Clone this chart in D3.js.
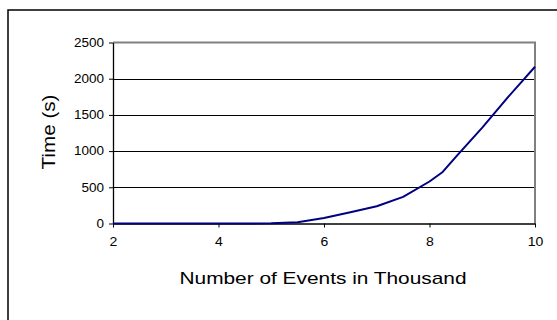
<!DOCTYPE html>
<html><head><meta charset="utf-8">
<script src="https://cdn.jsdelivr.net/npm/d3@7"></script>
<style>body{margin:0;background:#fff}svg{display:block}</style>
</head><body>
<script>
const events = [2, 3, 4, 5, 5.5, 6, 6.5, 7, 7.5, 8, 8.25, 8.5, 9, 9.5, 10];
const times  = [0, 0, 0, 2, 18, 75, 155, 238, 368, 580, 712, 920, 1325, 1755, 2165];
const xTicks = [2, 4, 6, 8, 10];
const yTicks = [0, 500, 1000, 1500, 2000, 2500];
const xTitle = "Number of Events in Thousand";
const yTitle = "Time (s)";

const W = 557, H = 320;
const svg = d3.select("body").append("svg").attr("width", W).attr("height", H);
const font = "'Liberation Sans', Arial, sans-serif";

// outer frame (cropped on right/bottom)
svg.append("rect").attr("x", 8).attr("y", 10).attr("width", 600).attr("height", 400)
  .attr("fill", "none").attr("stroke", "#000").attr("stroke-width", 1.5);

const L = 113, R = 535, T = 42.5, B = 223.5;
const x = d3.scaleLinear().domain([2, 10]).range([L, R]);
const y = d3.scaleLinear().domain([0, 2500]).range([B, T]);

// gridlines
svg.append("g").selectAll("line").data(yTicks.filter(v => v > 0 && v < 2500)).join("line")
  .attr("x1", L).attr("x2", R).attr("y1", d => Math.round(y(d)) + 0.5).attr("y2", d => Math.round(y(d)) + 0.5)
  .attr("stroke", "#000").attr("stroke-width", 1);

// plot border top/right gray
svg.append("path").attr("d", `M${L},${T}H${R}V${B}`).attr("fill", "none")
  .attr("stroke", "#808080").attr("stroke-width", 2);

// axes
const yAxis = svg.append("g").attr("transform", `translate(${L},0)`)
  .call(d3.axisLeft(y).tickValues(yTicks).tickSize(4).tickSizeOuter(0).tickPadding(5).tickFormat(d3.format("d")));
const xAxis = svg.append("g").attr("transform", `translate(0,${B})`)
  .call(d3.axisBottom(x).tickValues(xTicks).tickSize(4).tickSizeOuter(0).tickPadding(10).tickFormat(d3.format("d")));
[yAxis, xAxis].forEach(g => {
  g.select(".domain").attr("stroke", "#000").attr("stroke-width", 1.3);
  g.selectAll(".tick line").attr("stroke", "#000");
  g.selectAll("text").attr("font-family", font).attr("font-size", 12).attr("fill", "#000");
});
xAxis.selectAll("text").each(function(){
  const t = d3.select(this); const s = t.text();
  t.attr("textLength", s.length * 7.8).attr("lengthAdjust", "spacingAndGlyphs");
});
yAxis.selectAll("text").each(function(){
  const t = d3.select(this); const s = t.text();
  t.attr("textLength", s.length * 7.5).attr("lengthAdjust", "spacingAndGlyphs");
});

// line
svg.append("path").datum(events.map((e, i) => [e, times[i]]))
  .attr("d", d3.line().x(d => x(d[0])).y(d => y(d[1])))
  .attr("fill", "none").attr("stroke", "#000080").attr("stroke-width", 2).attr("stroke-linejoin", "round");

// titles
svg.append("text").attr("x", 323).attr("y", 284).attr("text-anchor", "middle")
  .attr("font-family", font).attr("font-size", 17).attr("fill", "#000")
  .attr("textLength", 287).attr("lengthAdjust", "spacingAndGlyphs").text(xTitle);
svg.append("text").attr("transform", "translate(55,132) rotate(-90)").attr("text-anchor", "middle")
  .attr("font-family", font).attr("font-size", 19).attr("fill", "#000")
  .attr("textLength", 75).attr("lengthAdjust", "spacingAndGlyphs").text(yTitle);
</script>
</body></html>
